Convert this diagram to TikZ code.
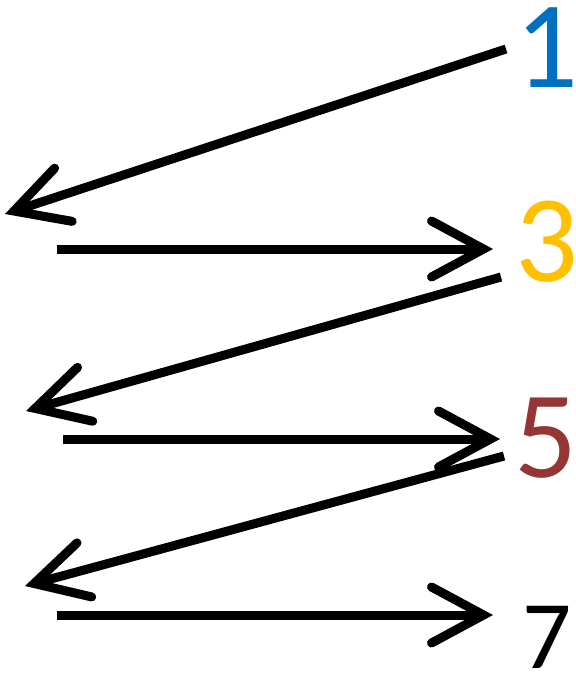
\documentclass[tikz,border=0pt]{standalone}
\usepackage{fontspec}
\setmainfont{Carlito}
\usetikzlibrary{arrows.meta}
\definecolor{numblue}{RGB}{0,112,192}
\definecolor{numgold}{RGB}{255,192,0}
\definecolor{numred}{RGB}{148,54,52}
\begin{document}
\begin{tikzpicture}[x=1pt,y=-1pt,
  num/.style={font=\fontsize{124}{124}\selectfont, inner sep=0pt, anchor=base},
  small num/.style={num, font=\fontsize{97}{97}\selectfont},
  jump/.style={line width=9pt,
    -{Straight Barb[length=52pt,width=56pt,line cap=round,line join=miter]}}]
\useasboundingbox (0,0) rectangle (576,678);

% odd numbers down the right side
\node[num,text=numblue] (n1) at (547,87) {1};
\node[num,text=numgold] (n3) at (547,281) {3};
\node[num,text=numred]  (n5) at (546,477) {5};
\node[small num,text=black] (n7) at (547,668) {7};

% ends of the zig-zag strokes
\coordinate (s1) at (506,49);
\coordinate (t1) at (5,214);
\coordinate (s2) at (57,249);
\coordinate (t2) at (493,249);
\coordinate (s3) at (501,277);
\coordinate (t3) at (26,411);
\coordinate (s4) at (63,439);
\coordinate (t4) at (500,439);
\coordinate (s5) at (504,456);
\coordinate (t5) at (25,586);
\coordinate (s6) at (57,615);
\coordinate (t6) at (493,615);

\draw[jump] (s1) -- (t1);
\draw[jump] (s2) -- (t2);
\draw[jump] (s3) -- (t3);
\draw[jump] (s4) -- (t4);
\draw[jump] (s5) -- (t5);
\draw[jump] (s6) -- (t6);
\end{tikzpicture}
\end{document}
